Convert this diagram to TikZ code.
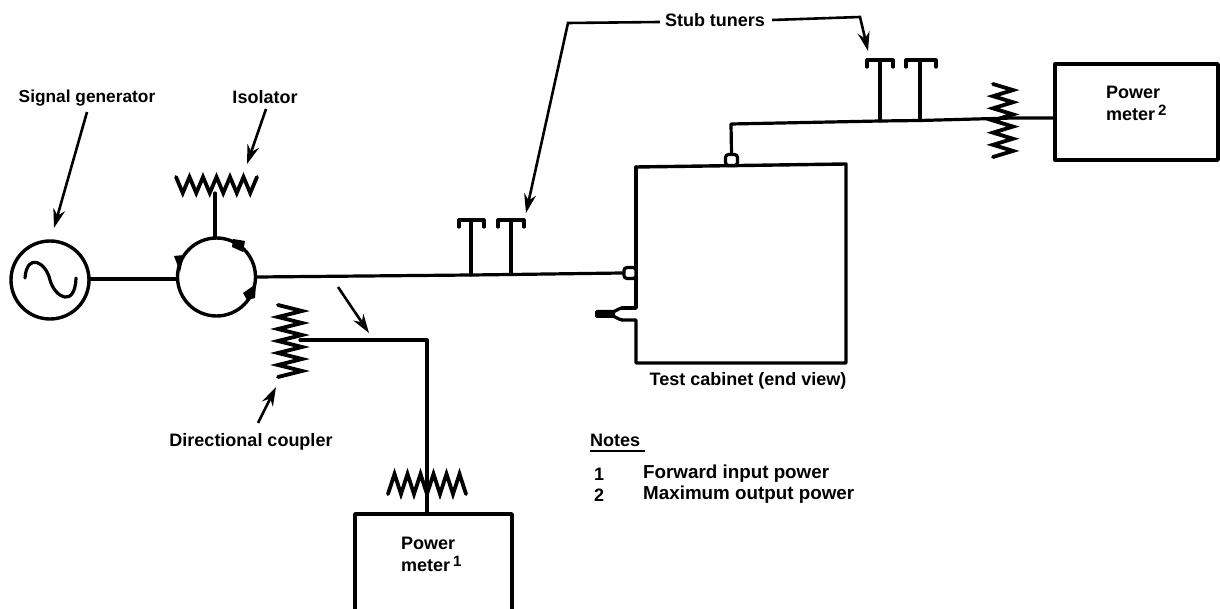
\documentclass[tikz,border=0pt]{standalone}
\usepackage{fontspec}
\setmainfont{Liberation Sans}
\usetikzlibrary{arrows.meta}
\tikzset{
  x=1pt,y=-1pt,
  wire/.style={line width=3.2pt,line join=round,line cap=round,black},
  lead/.style={line width=2.6pt,line cap=butt,-{Stealth[length=19pt,width=12pt]}},
  ring/.style={circle,draw,line width=3.4pt,minimum size=78pt,inner sep=0pt},
  meter/.style={rectangle,draw,line width=3.4pt,inner sep=0pt,line join=round},
  port/.style={rectangle,rounded corners=3pt,draw,line width=3.2pt,fill=white,minimum width=12pt,minimum height=11pt,inner sep=0pt},
  lab/.style={font=\fontsize{18}{20}\selectfont\bfseries,inner sep=0pt,align=center},
  lbl/.style={lab,align=left,anchor=west},
  notetext/.style={lbl,font=\fontsize{18.8}{20}\selectfont\bfseries},
  blob/.style={fill=black,draw=none},
}
\newcommand{\zzh}[4]{% x0, x1, ybase, first offset
  \draw[wire,line width=3.8pt,line join=miter] \foreach \i in {0,...,12}{
    \ifnum\i=0 ({#1},{#3+#4}) \else -- ({#1+(#2-#1)*\i/12},{#3+#4*cos(180*\i)}) \fi};
}
\newcommand{\zzv}[4]{% y0, y1, xbase, first offset
  \draw[wire,line width=3.8pt,line join=miter] \foreach \i in {0,...,12}{
    \ifnum\i=0 ({#3+#4},{#1}) \else -- ({#3+#4*cos(180*\i)},{#1+(#2-#1)*\i/12}) \fi};
}
\newcommand{\stub}[3]{% ytop, xl, xr
  \draw[wire] (#2,#1+7) -- (#2,#1) -- (#3,#1) -- (#3,#1+7);
}
\newcommand{\supr}[1]{\raisebox{5pt}{\fontsize{15}{15}\selectfont #1}}
\begin{document}
\begin{tikzpicture}
\useasboundingbox[fill=white] (0,0) rectangle (1220,609);

% sources
\node[ring] (gen) at (50,280) {};
\node[ring] (circ) at (216.5,277) {};
\draw[wire] (25,278) .. controls (27,252) and (46,262) .. (50,280) .. controls (55,298) and (75,308) .. (76,278);

% circulator arrowheads
\fill[blob] (174,256) -- (184,255) -- (180,272) -- cycle;
\fill[blob] (245,241) -- (243,252) -- (232,247) -- (233,239) -- cycle;
\fill[blob] (247,300) -- (243,293) -- (256,284) -- (255,298) -- cycle;

% isolator
\coordinate (isoL) at (215,193);
\zzh{176}{257}{185}{-8}
\draw[wire] (isoL) -- (isoL |- circ.north);
\coordinate (genR) at (90,279);
\coordinate (circL) at (177,279);
\draw[wire] (genR) -- (circL);

% cabinet
\draw[wire,line width=3.4pt] (636,167) -- (846,164) -- (846,363) -- (636,363) -- (636,320) -- (622,320);
\draw[wire,line width=3.4pt] (622,308) -- (636,308) -- (636,167);
\draw[wire] (622,308) .. controls (617,309) and (617,311) .. (612,312);
\draw[wire] (622,320) .. controls (617,319) and (617,317) .. (612,316);
\fill[black,rounded corners=1.5pt] (595,310) rectangle (615,318);
\node[port] (inport) at (630,273) {};
\node[port] (outport) at (731.5,160) {};

% main line
\coordinate (stubA) at (471,275);
\coordinate (stubB) at (511,274.5);
\draw[wire] (circ.east) -- (stubA) -- (stubB) -- (inport.west);
\coordinate (stubAt) at (471,220);
\coordinate (stubBt) at (511,220);
\draw[wire] (stubA) -- (stubAt);
\draw[wire] (stubB) -- (stubBt);
\stub{220}{459}{484}
\stub{220}{498}{524}

% output line
\node[meter,minimum width=163pt,minimum height=96pt] (pm2) at (1136.5,112) {};
\coordinate (corner) at (731,124);
\coordinate (stubC) at (880,121);
\coordinate (stubD) at (920,120.5);
\coordinate (atten) at (1013,118);
\draw[wire] (outport.north) -- (corner) -- (stubC) -- (stubD) -- (atten) -- (pm2.west |- atten);
\coordinate (stubCt) at (880,60);
\coordinate (stubDt) at (920,60);
\draw[wire] (stubC) -- (stubCt);
\draw[wire] (stubD) -- (stubDt);
\stub{60}{867}{893}
\stub{60}{906}{936}
\zzv{84}{157}{1003}{-10}

% coupled line
\coordinate (cplA) at (300,340);
\coordinate (cplB) at (427,340);
\coordinate (pm1top) at (427,514);
\coordinate (pm1L) at (355,609);
\coordinate (pm1R) at (512,609);
\draw[wire] (cplA) -- (cplB) -- (pm1top);
\draw[meter] (pm1L) -- (pm1L |- pm1top) -- (pm1R |- pm1top) -- (pm1R);
\zzv{305}{377}{290}{-12}
\zzh{388}{466}{484}{10}

% labels
\node[lab,font=\fontsize{17.3}{20}\selectfont\bfseries] (tgen) at (87,98) {Signal generator};
\node[lab] (tiso) at (265,97) {Isolator};
\node[lab] (tstub) at (715,20) {Stub tuners};
\node[lab] (tdir) at (251,442) {Directional coupler};
\node[lab] (tcab) at (748,381) {Test cabinet (end view)};
\node[lab,anchor=north west,align=left] (tp1) at (401,537) {Power\\[2pt]meter\,\supr{1}};
\node[lab,anchor=north west,align=left] (tp2) at (1106,86) {Power\\[2pt]meter\,\supr{2}};
\node[lbl] (tnotes) at (590,440) {Notes};
\draw[line width=2.2pt] (tnotes.west |- 0,451) -- (645,451);
\node[lbl] (n1) at (594,474) {1};
\node[lbl] (n2) at (594,495) {2};
\node[notetext] (f1) at (643,474) {Forward input power};
\node[notetext] (f2) at (643,495) {Maximum output power};

% leaders
\coordinate (aGen) at (54,228);
\coordinate (aIso) at (247,164);
\coordinate (aDir) at (276,387);
\coordinate (aCpl) at (369,333);
\coordinate (aCplS) at (338,287);
\coordinate (aS1) at (526,213);
\coordinate (aS2) at (868,51);
\coordinate (kS1) at (568,23);
\coordinate (kS2) at (860,17);
\draw[lead] (87,112) -- (aGen);
\draw[lead] (266,109) -- (aIso);
\draw[lead] (258,423) -- (aDir);
\draw[lead] (aCplS) -- (aCpl);
\draw[lead] (tstub.west |- 0,22) ++(-5,0) -- (kS1) -- (aS1);
\draw[lead] (tstub.east |- 0,20) ++(7,0) -- (kS2) -- (aS2);
\end{tikzpicture}
\end{document}
